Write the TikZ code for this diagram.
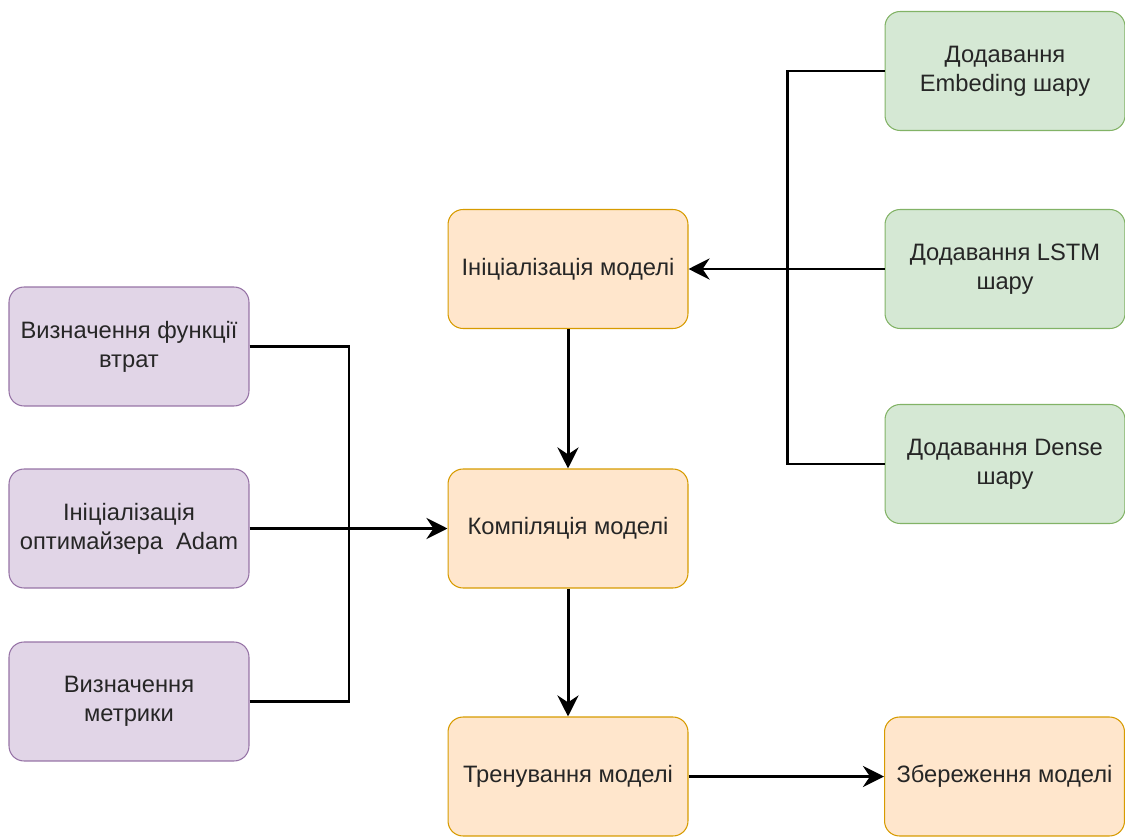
\documentclass[tikz,border=0pt]{standalone}
\usepackage{fontspec}
\setmainfont{Liberation Sans}
\usepackage{xcolor}
\usepackage{tikz}
\usetikzlibrary{arrows.meta}
\usetikzlibrary{calc}

\definecolor{orfill}{HTML}{FFE6CC}
\definecolor{ordraw}{HTML}{D79B00}
\definecolor{grfill}{HTML}{D5E8D4}
\definecolor{grdraw}{HTML}{82B366}
\definecolor{vifill}{HTML}{E1D5E7}
\definecolor{vidraw}{HTML}{9673A6}

\begin{document}
\begin{tikzpicture}[x=0.02cm, y=-0.02cm]

        \tikzstyle{block}  = [rectangle, rounded corners=0.3cm, minimum width=4.8cm, minimum height=2.38cm,
                              inner sep=2pt, align=center, font=\fontsize{13.5}{16.5}\selectfont,
                              text=black!85, line width=0.6pt]
        \tikzstyle{stage}  = [block, draw=ordraw, fill=orfill]
        \tikzstyle{layer}  = [block, draw=grdraw, fill=grfill]
        \tikzstyle{setup}  = [block, draw=vidraw, fill=vifill]
        \tikzstyle{link}   = [line width=1.7pt]
        \tikzstyle{flow}   = [link, -{Stealth[length=12pt, width=12pt, inset=4pt]}]

        \useasboundingbox (0,0) rectangle (1125,837);

        % model stages
        \node [stage](init)    at (568, 269)   {Ініціалізація моделі};
        \node [stage](compile) at (568, 528.5) {Компіляція моделі};
        \node [stage](train)   at (568, 776.5) {Тренування моделі};
        \node [stage](save)    at (1004.5, 776.5) {Збереження моделі};

        % layers
        \foreach \y/\n/\t in {71/embed/{Додавання\\Embeding шару},
                              269/lstm/{Додавання LSTM\\шару},
                              464/dense/{Додавання Dense\\шару}}
        {
                \node [layer](\n) at (1005, \y) {\t};
        }

        % compile settings
        \node [setup](loss)   at (129, 346.5) {Визначення функції\\втрат};
        \node [setup](adam)   at (129, 528.5) {Ініціалізація\\оптимайзера\ \ Adam};
        \node [setup](metric) at (129, 701.5) {Визначення\\метрики};

        \coordinate (jl) at (349, 528.5);
        \coordinate (jr) at (787, 269);

        \draw [link] (loss.east) -| (jl);
        \draw [link] (metric.east) -| (jl);
        \draw [flow] (adam) -- (compile);

        \draw [link] (embed.west) -| (jr);
        \draw [link] (dense.west) -| (jr);
        \draw [flow] (lstm) -- (init);

        \draw [flow] (init) -- (compile);
        \draw [flow] (compile) -- (train);
        \draw [flow] (train) -- (save);

\end{tikzpicture}
\end{document}
